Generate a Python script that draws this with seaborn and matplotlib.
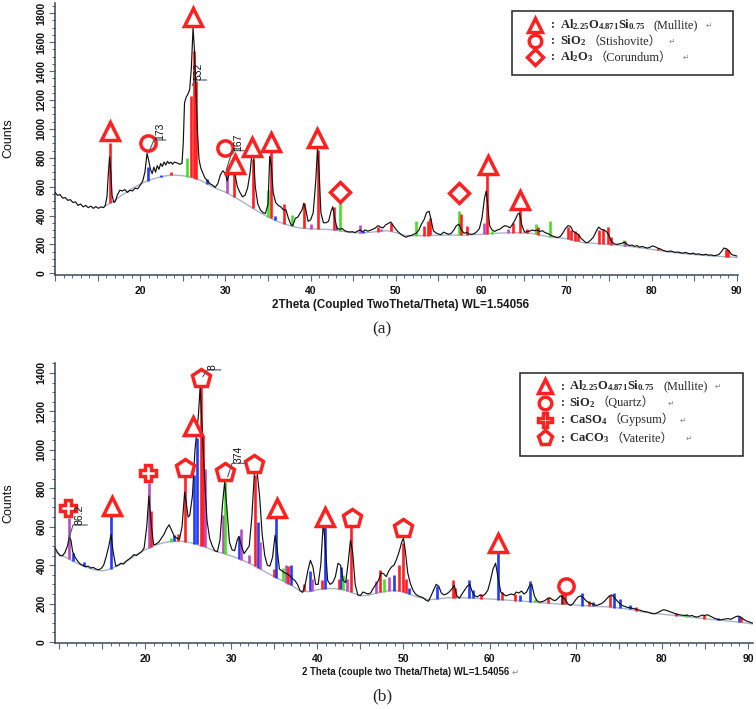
import numpy as np
import pandas as pd
import matplotlib
matplotlib.use("Agg")
import matplotlib.pyplot as plt
import seaborn as sns
from matplotlib.lines import Line2D
from matplotlib.patches import Rectangle
from matplotlib.ticker import MultipleLocator

# ---------------- data: panel (a) ----------------
theta_a = [10.0, 10.3, 10.6, 10.9, 11.2, 11.5, 11.8, 12.1, 12.4, 12.7, 13.0, 13.3, 13.6, 13.9, 14.2, 14.5, 14.8, 15.1, 15.4, 15.7,
           15.9, 16.1, 16.25, 16.4, 16.55, 16.7, 16.9, 17.1, 17.3, 17.6, 17.9, 18.2, 18.5, 18.8, 19.1, 19.4, 19.7, 20.0, 20.3, 20.55,
           20.8, 21.0, 21.2, 21.4, 21.6, 21.8, 22.0, 22.2, 22.4, 22.6, 22.8, 23.0, 23.2, 23.4, 23.6, 23.8, 24.0, 24.3, 24.6, 24.9,
           25.05, 25.2, 25.4, 25.6, 25.8, 26.0, 26.2, 26.35, 26.5, 26.7, 26.9, 27.1, 27.3, 27.6, 27.9, 28.2, 28.5, 28.8, 29.1, 29.4,
           29.7, 30.0, 30.2, 30.5, 30.8, 31.1, 31.4, 31.7, 32.0, 32.3, 32.6, 32.9, 33.1, 33.3, 33.5, 33.8, 34.1, 34.4, 34.7, 35.0,
           35.2, 35.4, 35.6, 35.9, 36.2, 36.5, 36.8, 37.1, 37.4, 37.7, 37.9, 38.2, 38.5, 38.8, 39.0, 39.2, 39.4, 39.7, 40.0, 40.3,
           40.6, 40.8, 41.0, 41.2, 41.5, 41.8, 42.1, 42.4, 42.6, 42.8, 43.1, 43.4, 43.7, 44.0, 44.3, 44.6, 44.9, 45.2, 45.5, 45.8,
           46.1, 46.4, 46.7, 47.0, 47.3, 47.6, 47.9, 48.2, 48.5, 48.8, 49.1, 49.4, 49.7, 50.0, 50.3, 50.6, 50.9, 51.2, 51.5, 51.8,
           52.1, 52.4, 52.7, 53.0, 53.3, 53.6, 53.9, 54.1, 54.4, 54.7, 55.0, 55.3, 55.6, 55.9, 56.2, 56.5, 56.8, 57.1, 57.4, 57.7,
           58.0, 58.3, 58.6, 58.9, 59.2, 59.5, 59.8, 60.1, 60.4, 60.6, 60.8, 61.0, 61.3, 61.6, 61.9, 62.2, 62.5, 62.8, 63.1, 63.4,
           63.7, 64.0, 64.3, 64.5, 64.8, 65.1, 65.4, 65.7, 66.0, 66.3, 66.6, 66.9, 67.2, 67.5, 67.8, 68.1, 68.4, 68.7, 69.0, 69.3,
           69.6, 69.9, 70.2, 70.5, 70.8, 71.1, 71.4, 71.7, 72.0, 72.3, 72.6, 72.9, 73.2, 73.5, 73.8, 74.1, 74.4, 74.7, 75.0, 75.3,
           75.6, 75.9, 76.2, 76.5, 76.8, 77.1, 77.4, 77.7, 78.0, 78.3, 78.6, 78.9, 79.2, 79.5, 79.8, 80.1, 80.4, 80.7, 81.0, 81.3,
           81.6, 81.9, 82.2, 82.5, 82.8, 83.1, 83.4, 83.7, 84.0, 84.3, 84.6, 84.9, 85.2, 85.5, 85.8, 86.1, 86.4, 86.7, 87.0, 87.3,
           87.6, 87.9, 88.2, 88.5, 88.8, 89.1, 89.4, 89.7, 90.0]
counts_a = [560, 540, 545, 520, 525, 505, 510, 490, 495, 470, 480, 460, 470, 455, 465, 450, 462, 450, 460, 455,
            470, 530, 680, 805, 700, 540, 490, 500, 540, 575, 570, 580, 560, 575, 570, 590, 585, 610, 640, 700,
            830, 780, 720, 690, 735, 700, 745, 720, 760, 740, 770, 750, 775, 760, 770, 755, 770, 765, 755, 760,
            900, 1180, 1220, 1240, 1270, 1420, 1700, 1560, 1330, 1000, 790, 730, 700, 660, 640, 620, 610, 595, 620, 680,
            710, 690, 640, 700, 715, 690, 600, 560, 530, 540, 590, 700, 830, 820, 600, 480, 440, 420, 415, 480,
            810, 740, 560, 490, 470, 460, 440, 440, 380, 335, 330, 380, 390, 420, 440, 485, 450, 360, 370, 420,
            640, 860, 700, 420, 350, 350, 360, 430, 460, 390, 310, 305, 310, 295, 288, 286, 288, 282, 292, 300,
            288, 300, 292, 298, 305, 315, 330, 320, 315, 335, 345, 355, 330, 305, 285, 270, 258, 250, 258, 262,
            270, 278, 300, 340, 370, 420, 430, 380, 295, 280, 272, 268, 285, 277, 270, 277, 300, 330, 340, 300,
            278, 283, 272, 270, 275, 288, 310, 380, 520, 570, 460, 330, 300, 290, 300, 305, 320, 330, 325, 315,
            340, 370, 410, 415, 330, 285, 288, 292, 300, 295, 300, 290, 295, 282, 276, 266, 258, 252, 248, 255,
            280, 310, 330, 325, 290, 280, 270, 245, 228, 212, 216, 232, 252, 290, 320, 305, 300, 290, 262, 222,
            205, 200, 204, 207, 216, 202, 192, 196, 187, 192, 181, 186, 180, 175, 180, 190, 185, 175, 170, 160,
            155, 150, 155, 150, 145, 148, 142, 140, 145, 138, 135, 140, 132, 135, 130, 128, 132, 125, 128, 122,
            125, 130, 150, 175, 170, 155, 130, 125, 120]

bg_theta_a = [15.8, 17, 18, 19, 20, 21, 22, 23, 24, 25, 26, 27, 28, 29, 30, 31, 32, 33, 34, 35, 36, 37, 38, 39, 40,
              41, 42, 43, 44, 45, 46, 47, 48, 49, 50, 51, 52, 54, 56, 58, 60, 62, 64, 66, 68, 70, 72, 74, 76, 78,
              80, 82, 84, 86, 88, 90.15]
bg_counts_a = [462, 505, 548, 585, 618, 643, 662, 675, 680, 676, 664, 645, 615, 585, 562, 530, 495, 458, 422, 390,
               362, 340, 322, 312, 308, 306, 304, 298, 289, 282, 280, 284, 290, 295, 282, 262, 260, 262, 264, 265,
               270, 278, 282, 276, 252, 240, 212, 205, 195, 182, 166, 148, 135, 125, 117, 110]

stick_theta_a = [16.45, 20.9, 22.4, 23.6, 25.5, 26.0, 26.3, 26.55, 27.8, 30.15, 31.0, 33.2, 35.0, 35.3, 35.8, 36.9,
                 37.8, 39.2, 40.1, 40.9, 42.7, 43.0, 43.4, 45.8, 46.2, 47.9, 48.2, 49.4, 52.4, 53.3, 53.8, 54.0,
                 57.4, 57.6, 58.3, 60.3, 60.7, 61.3, 63.2, 63.7, 64.6, 65.4, 66.5, 66.7, 68.1, 70.2, 70.6, 71.0,
                 71.4, 73.8, 74.3, 74.9, 75.2, 76.8, 76.9, 80.8, 88.7, 89.0]
stick_top_a = [900, 735, 680, 700, 795, 1230, 1540, 1330, 650, 700, 710, 790, 575, 840, 395, 480,
               405, 490, 340, 855, 460, 330, 490, 335, 290, 320, 305, 350, 360, 330, 360, 380,
               430, 410, 330, 345, 680, 290, 310, 345, 440, 310, 340, 320, 365, 320, 300, 290,
               270, 300, 310, 320, 250, 232, 225, 175, 170, 160]
stick_col_a = ["r", "b", "b", "r", "g", "r", "r", "r", "b", "m", "r", "r", "g", "r", "b", "r",
               "g", "r", "m", "r", "r", "m", "g", "m", "b", "r", "m", "r", "g", "r", "r", "r",
               "g", "r", "r", "m", "r", "g", "m", "r", "r", "r", "g", "r", "g", "r", "r", "r",
               "r", "r", "r", "r", "r", "g", "m", "r", "r", "r"]

mark_theta_a = [16.4, 20.9, 26.2, 30.0, 31.1, 33.15, 35.3, 40.8, 43.4, 57.4, 60.8, 64.6]
mark_y_a = [985, 900, 1775, 865, 760, 873, 910, 935, 560, 554, 750, 508]
mark_kind_a = ["^", "o", "^", "o", "^", "^", "^", "^", "D", "D", "^", "^"]
ann_a = ["173", "532", "167"]

# ---------------- data: panel (b) ----------------
theta_b = [9.55, 9.8, 10.1, 10.4, 10.7, 11.0, 11.2, 11.4, 11.6, 11.9, 12.2, 12.5, 12.8, 13.1, 13.4, 13.7, 14.0, 14.3, 14.6, 14.9,
           15.2, 15.5, 15.8, 16.05, 16.3, 16.6, 16.9, 17.2, 17.5, 17.8, 18.1, 18.4, 18.7, 19.0, 19.3, 19.6, 19.9, 20.2, 20.45, 20.7,
           21.0, 21.3, 21.6, 21.9, 22.2, 22.5, 22.8, 23.1, 23.4, 23.7, 24.0, 24.3, 24.6, 24.8, 25.0, 25.2, 25.5, 25.8, 26.0, 26.2,
           26.4, 26.6, 26.8, 27.0, 27.2, 27.5, 27.8, 28.1, 28.4, 28.7, 29.0, 29.25, 29.5, 29.8, 30.1, 30.4, 30.7, 30.9, 31.2, 31.5,
           31.8, 32.1, 32.4, 32.7, 33.0, 33.3, 33.6, 33.9, 34.2, 34.5, 34.8, 35.1, 35.3, 35.6, 35.9, 36.2, 36.5, 36.8, 37.1, 37.4,
           37.7, 38.0, 38.3, 38.6, 38.9, 39.2, 39.5, 39.8, 40.1, 40.4, 40.7, 40.9, 41.2, 41.5, 41.8, 42.1, 42.4, 42.7, 43.0, 43.3,
           43.6, 43.85, 44.1, 44.4, 44.7, 45.0, 45.3, 45.6, 45.9, 46.2, 46.5, 46.8, 47.1, 47.4, 47.7, 48.0, 48.3, 48.6, 48.9, 49.2,
           49.5, 49.8, 50.0, 50.2, 50.5, 50.8, 51.1, 51.4, 51.7, 52.0, 52.3, 52.6, 52.9, 53.2, 53.5, 53.8, 54.1, 54.4, 54.7, 55.0,
           55.3, 55.6, 55.9, 56.2, 56.5, 56.8, 57.1, 57.4, 57.7, 58.0, 58.3, 58.6, 58.9, 59.2, 59.5, 59.8, 60.1, 60.4, 60.7, 61.0,
           61.3, 61.6, 61.9, 62.2, 62.5, 62.8, 63.1, 63.4, 63.7, 64.0, 64.3, 64.6, 64.9, 65.2, 65.5, 65.8, 66.1, 66.4, 66.7, 67.0,
           67.3, 67.6, 67.9, 68.2, 68.5, 68.8, 69.1, 69.4, 69.7, 70.0, 70.3, 70.6, 70.9, 71.2, 71.5, 71.8, 72.1, 72.4, 72.7, 73.0,
           73.3, 73.6, 73.9, 74.2, 74.5, 74.8, 75.1, 75.4, 75.7, 76.0, 76.3, 76.6, 76.9, 77.2, 77.5, 77.8, 78.1, 78.4, 78.7, 79.0,
           79.3, 79.6, 79.9, 80.2, 80.5, 80.8, 81.1, 81.4, 81.7, 82.0, 82.3, 82.6, 82.9, 83.2, 83.5, 83.8, 84.1, 84.4, 84.7, 85.0,
           85.3, 85.6, 85.9, 86.2, 86.5, 86.8, 87.1, 87.4, 87.7, 88.0, 88.3, 88.6, 88.9, 89.2, 89.5, 89.8, 90.1, 90.4, 90.6]
counts_b = [490, 470, 450, 448, 465, 500, 545, 530, 470, 440, 420, 405, 398, 392, 395, 385, 388, 380, 376, 382,
            400, 445, 500, 560, 470, 395, 400, 410, 405, 420, 430, 440, 455, 450, 460, 470, 490, 600, 760, 620,
            505, 510, 520, 540, 560, 590, 610, 580, 550, 540, 535, 600, 780, 720, 650, 660, 760, 1000, 1090, 1180,
            1330, 1150, 960, 780, 630, 540, 500, 475, 470, 530, 720, 835, 700, 520, 480, 475, 530, 550, 500, 460,
            480, 500, 650, 880, 890, 760, 560, 450, 400, 395, 440, 555, 500, 380, 370, 360, 355, 345, 330, 320,
            300, 268, 258, 300, 370, 425, 390, 300, 300, 400, 625, 520, 320, 300, 310, 340, 410, 400, 320, 310,
            420, 530, 470, 300, 245, 242, 260, 255, 250, 255, 280, 300, 320, 360, 355, 340, 370, 390, 400, 430,
            470, 520, 540, 480, 360, 305, 270, 250, 240, 235, 230, 218, 212, 240, 270, 300, 290, 255, 245, 250,
            260, 275, 295, 240, 228, 250, 270, 290, 300, 260, 240, 235, 245, 240, 250, 270, 320, 380, 410, 330,
            260, 250, 240, 245, 250, 245, 260, 255, 265, 250, 260, 290, 300, 240, 215, 207, 210, 215, 225, 230,
            220, 215, 225, 240, 235, 220, 198, 190, 200, 220, 235, 240, 230, 215, 205, 200, 195, 190, 195, 200,
            210, 225, 240, 245, 230, 215, 200, 190, 185, 180, 178, 175, 172, 168, 165, 160, 158, 155, 150, 147,
            148, 155, 162, 168, 165, 160, 155, 150, 145, 142, 140, 138, 140, 135, 138, 132, 130, 135, 140, 138,
            142, 135, 128, 122, 118, 115, 118, 120, 122, 118, 125, 132, 135, 128, 118, 110, 105, 100, 98]

bg_theta_b = [9.55, 10, 11, 12, 13, 14, 15, 16, 17, 18, 19, 20, 21, 22, 23, 24, 25, 26, 27, 28, 29, 30, 31, 32, 33,
              34, 35, 36, 37, 38, 39, 40, 41, 42, 43, 44, 45, 46, 47, 48, 49, 50, 51, 52, 53, 54, 55, 56, 57, 58,
              60, 62, 64, 66, 68, 70, 72, 74, 76, 78, 80, 82, 84, 86, 88, 90.6]
bg_counts_b = [470, 458, 436, 412, 392, 377, 370, 380, 400, 425, 455, 480, 500, 515, 523, 525, 520, 508, 494, 475,
               462, 448, 432, 412, 390, 364, 340, 318, 295, 265, 262, 272, 278, 278, 272, 258, 240, 244, 255, 265,
               268, 260, 244, 230, 220, 224, 230, 230, 230, 228, 224, 218, 212, 204, 198, 192, 186, 182, 172, 155,
               145, 136, 126, 116, 108, 94]

stick_theta_b = [11.15, 11.6, 12.9, 16.05, 20.45, 20.65, 23.0, 23.4, 23.8, 24.6, 25.7, 26.0, 26.45, 26.75, 27.0, 29.1,
                 29.3, 30.9, 31.15, 32.1, 32.75, 33.1, 33.3, 35.0, 35.2, 36.0, 36.4, 36.6, 36.9, 38.4, 39.2, 39.4,
                 40.6, 40.85, 42.5, 42.7, 43.0, 43.5, 43.9, 46.8, 47.3, 47.7, 48.3, 48.9, 49.5, 49.95, 50.3, 50.7,
                 53.9, 55.7, 56.0, 57.6, 58.1, 59.0, 60.95, 61.4, 63.0, 63.5, 64.7, 65.3, 66.8, 68.4, 68.8, 70.7,
                 71.5, 72.0, 74.0, 74.5, 75.1, 76.3, 77.0, 81.6, 82.8, 84.9, 86.5, 88.9, 89.2]
stick_top_b = [645, 465, 415, 655, 826, 680, 540, 555, 560, 860, 870, 1060, 1330, 1070, 900, 660,
               835, 550, 590, 455, 870, 625, 520, 380, 645, 385, 400, 395, 400, 300, 370, 330,
               325, 625, 330, 390, 350, 330, 600, 320, 375, 330, 340, 350, 400, 515, 330, 280,
               290, 325, 280, 325, 270, 250, 470, 260, 250, 245, 315, 225, 235, 250, 260, 255,
               215, 210, 245, 255, 225, 190, 180, 150, 145, 140, 125, 135, 130]
stick_col_b = ["m", "b", "b", "b", "m", "r", "g", "b", "r", "r", "b", "b", "r", "r", "m", "m",
               "g", "b", "m", "m", "r", "b", "m", "r", "b", "g", "m", "r", "b", "r", "b", "m",
               "r", "b", "r", "b", "g", "m", "r", "m", "r", "g", "m", "b", "r", "r", "r", "b",
               "b", "r", "r", "b", "b", "r", "b", "r", "r", "b", "b", "g", "r", "k", "r", "b",
               "r", "b", "r", "b", "b", "b", "r", "r", "g", "r", "b", "b", "r"]

mark_theta_b = [11.1, 16.15, 20.4, 24.6, 25.6, 26.5, 29.3, 32.7, 35.3, 40.9, 44.0, 50.0, 61.0, 68.9]
mark_y_b = [696, 708, 878, 907, 1124, 1372, 883, 925, 696, 652, 644, 592, 514, 292]
mark_kind_b = ["P", "^", "P", "p", "^", "p", "p", "p", "^", "^", "p", "p", "^", "o"]
ann_b = ["86.2", "8", "374"]

# legend texts
leg_formula_a = [r"$\mathbf{Al_{2.25}O_{4.871}Si_{0.75}}$", r"$\mathbf{SiO_2}$", r"$\mathbf{Al_2O_3}$"]
leg_name_a = ["(Mullite)", "（Stishovite）", "（Corundum）"]
leg_formula_b = [r"$\mathbf{Al_{2.25}O_{4.871}Si_{0.75}}$", r"$\mathbf{SiO_2}$", r"$\mathbf{CaSO_4}$", r"$\mathbf{CaCO_3}$"]
leg_name_b = ["(Mullite)", "（Quartz）", "（Gypsum）", "（Vaterite）"]
leg_kind_a = ["^", "o", "D"]
leg_kind_b = ["^", "o", "P", "p"]

# ---------------- style ----------------
sns.set_style("ticks")
plt.rcParams["font.family"] = ["Liberation Sans", "DejaVu Sans"]
plt.rcParams["mathtext.fontset"] = "custom"
plt.rcParams["mathtext.rm"] = "Liberation Serif"
plt.rcParams["mathtext.bf"] = "Liberation Serif:bold"
plt.rcParams["mathtext.it"] = "Liberation Serif:italic"

W, H = 756, 709
fig = plt.figure(figsize=(W / 100, H / 100), dpi=100)
fig.patch.set_facecolor("white")
renderer = fig.canvas.get_renderer()


def fx(px):
    return px / W


def fy(py):
    return 1 - py / H


def right_px(t):
    return t.get_window_extent(renderer=renderer).x1


COL = {"r": "#ff1f1f", "b": "#1f3cff", "g": "#44e022", "m": "#b94cc4", "k": "#8b1010"}
RED = "#ff2020"
SPINE = "#3a4656"
LEAD = "#4a5866"


def panel(ax, th, ct, bt, bc, st, stop, scol, mt, my, mk, xlim, ylim, yticks, msz):
    df = pd.DataFrame({"theta": th, "counts": ct})
    dbg = pd.DataFrame({"theta": bt, "counts": bc})
    base = np.interp(st, bt, bc)
    ax.vlines(st, base, stop, colors=[COL[c] for c in scol], lw=1.9, zorder=2)
    sns.lineplot(data=dbg, x="theta", y="counts", ax=ax, color="#aab4c8", lw=1.0,
                 estimator=None, sort=False, zorder=1)
    sns.lineplot(data=df, x="theta", y="counts", ax=ax, color="#111111", lw=0.85,
                 estimator=None, sort=False, zorder=3)
    for t, yv, k in zip(mt, my, mk):
        s = msz.get(k, 10)
        ax.plot([t], [yv], marker=k, ms=s, mfc="white", mec=RED, mew=2.5, ls="none", zorder=6)
    ax.set_xlim(*xlim)
    ax.set_ylim(*ylim)
    ax.set_xlabel("")
    ax.set_ylabel("")
    for sp in ["top", "right"]:
        ax.spines[sp].set_visible(False)
    for sp in ["left", "bottom"]:
        ax.spines[sp].set_color(SPINE)
        ax.spines[sp].set_linewidth(1.1)
    xt = list(range(10, 95, 5))
    ax.set_xticks(xt)
    ax.set_xticklabels([str(v) if (v % 10 == 0 and v >= 20) else "" for v in xt])
    ax.xaxis.set_minor_locator(MultipleLocator(1))
    ax.set_yticks(yticks)
    ax.set_yticklabels([str(v) for v in yticks], rotation=90, va="center")
    ax.yaxis.set_minor_locator(MultipleLocator(50))
    ax.tick_params(which="major", length=4, width=0.8, color="#5a6878", labelsize=7.5,
                   pad=2, direction="out", labelcolor="#111111")
    ax.tick_params(which="minor", length=2.5, width=0.7, color="#5a6878", direction="out")
    ax.tick_params(axis="x", which="major", pad=4)
    for lbl in ax.get_xticklabels() + ax.get_yticklabels():
        lbl.set_fontweight("bold")
    ax.set_facecolor("white")


msz = {"^": 12.5, "o": 11, "D": 10, "P": 12, "p": 13.5}

axA = fig.add_axes([fx(55), fy(275), (738 - 55) / W, (275 - 3) / H])
panel(axA, theta_a, counts_a, bg_theta_a, bg_counts_a, stick_theta_a, stick_top_a, stick_col_a,
      mark_theta_a, mark_y_a, mark_kind_a, (10.0, 90.15), (-11.5, 1871), list(range(0, 1801, 200)), msz)

axB = fig.add_axes([fx(55), fy(643), (753 - 55) / W, (643 - 363) / H])
panel(axB, theta_b, counts_b, bg_theta_b, bg_counts_b, stick_theta_b, stick_top_b, stick_col_b,
      mark_theta_b, mark_y_b, mark_kind_b, (9.55, 90.58), (-5.2, 1452), list(range(0, 1401, 200)), msz)


def annot(ax, label, p0, p1, x_end, tx):
    ax.plot([p0[0], p1[0], x_end], [p0[1], p1[1], p1[1]], color=LEAD, lw=0.8, zorder=7)
    ax.text(tx, p1[1], label, rotation=90, ha="center", va="bottom", fontsize=7.5,
            color="#111111", zorder=7)


annot(axA, ann_a[0], (21.1, 850), (21.6, 923), 23.0, 22.3)
annot(axA, ann_a[1], (26.1, 1300), (26.4, 1338), 27.8, 26.9)
annot(axA, ann_a[2], (30.1, 715), (30.8, 849), 32.2, 31.45)
annot(axB, ann_b[0], (11.1, 531), (11.65, 609), 13.3, 12.4)
annot(axB, ann_b[1], (26.7, 1381), (27.25, 1416), 28.8, 27.85)
annot(axB, ann_b[2], (29.6, 860), (30.1, 930), 31.8, 30.9)

# axis titles
fig.text(fx(8), fy(138), "Counts", rotation=90, ha="center", va="center", fontsize=9, color="#111111")
fig.text(fx(8), fy(503), "Counts", rotation=90, ha="center", va="center", fontsize=9, color="#111111")
fig.text(fx(401), fy(305), "2Theta (Coupled TwoTheta/Theta) WL=1.54056", ha="center", va="center",
         fontsize=8.4, fontweight="bold", color="#1a1a1a")
xlb = fig.text(fx(302), fy(672), "2 Theta (couple two Theta/Theta) WL=1.54056", ha="left", va="center",
               fontsize=6.9, fontweight="bold", color="#1a1a1a")
fig.text((right_px(xlb) + 2) / W, fy(672), "↵", ha="left", va="center", fontsize=6, color="#888888",
         family="DejaVu Sans")
fig.text(fx(382), fy(329), "(a)", ha="center", va="center", fontsize=12.5, family="Liberation Serif")
fig.text(fx(382), fy(696), "(b)", ha="center", va="center", fontsize=12.5, family="Liberation Serif")


def legend(box, kinds, formulas, names, rows_y, mark_x, colon_x, form_x, name_x, arrow_x):
    x0, y0, x1, y1 = box
    fig.add_artist(Rectangle((fx(x0), fy(y1)), (x1 - x0) / W, (y1 - y0) / H, transform=fig.transFigure,
                             fill=False, ec="#222222", lw=1.1))
    for i, (k, f, n) in enumerate(zip(kinds, formulas, names)):
        yy = rows_y[i]
        s = {"^": 10, "o": 9, "D": 8, "P": 10, "p": 11}[k]
        fig.add_artist(Line2D([fx(mark_x)], [fy(yy)], marker=k, ms=s, mfc="white", mec=RED, mew=2.5,
                              transform=fig.transFigure, ls="none"))
        fig.text(fx(colon_x), fy(yy + 3.5), ":", fontsize=8.5, fontweight="bold", va="baseline",
                 family="Liberation Serif")
        tf = fig.text(fx(form_x), fy(yy + 3.5), f, fontsize=9.0, va="baseline")
        nx = max(name_x[i], right_px(tf) + 1.5)
        tn = fig.text(nx / W, fy(yy + 3.5), n, fontsize=8.8, va="baseline",
                      family=["Liberation Serif", "Noto Sans CJK SC", "DejaVu Sans"])
        ax_ = max(arrow_x[i], right_px(tn) + 1.5)
        fig.text(ax_ / W, fy(yy + 3), "↵", fontsize=5.5, va="baseline", color="#888888",
                 family="DejaVu Sans")


legend((512, 11, 733, 75), leg_kind_a, leg_formula_a, leg_name_a, [25, 41, 57], 535, 551, 560,
       [654, 583, 583], [706, 669, 683])
legend((520, 373, 743, 456), leg_kind_b, leg_formula_b, leg_name_b, [386, 403, 420, 438], 545, 561, 569,
       [664, 585, 595, 600], [715, 668, 680, 686])

fig.savefig("out.png", dpi=100, facecolor="white")
